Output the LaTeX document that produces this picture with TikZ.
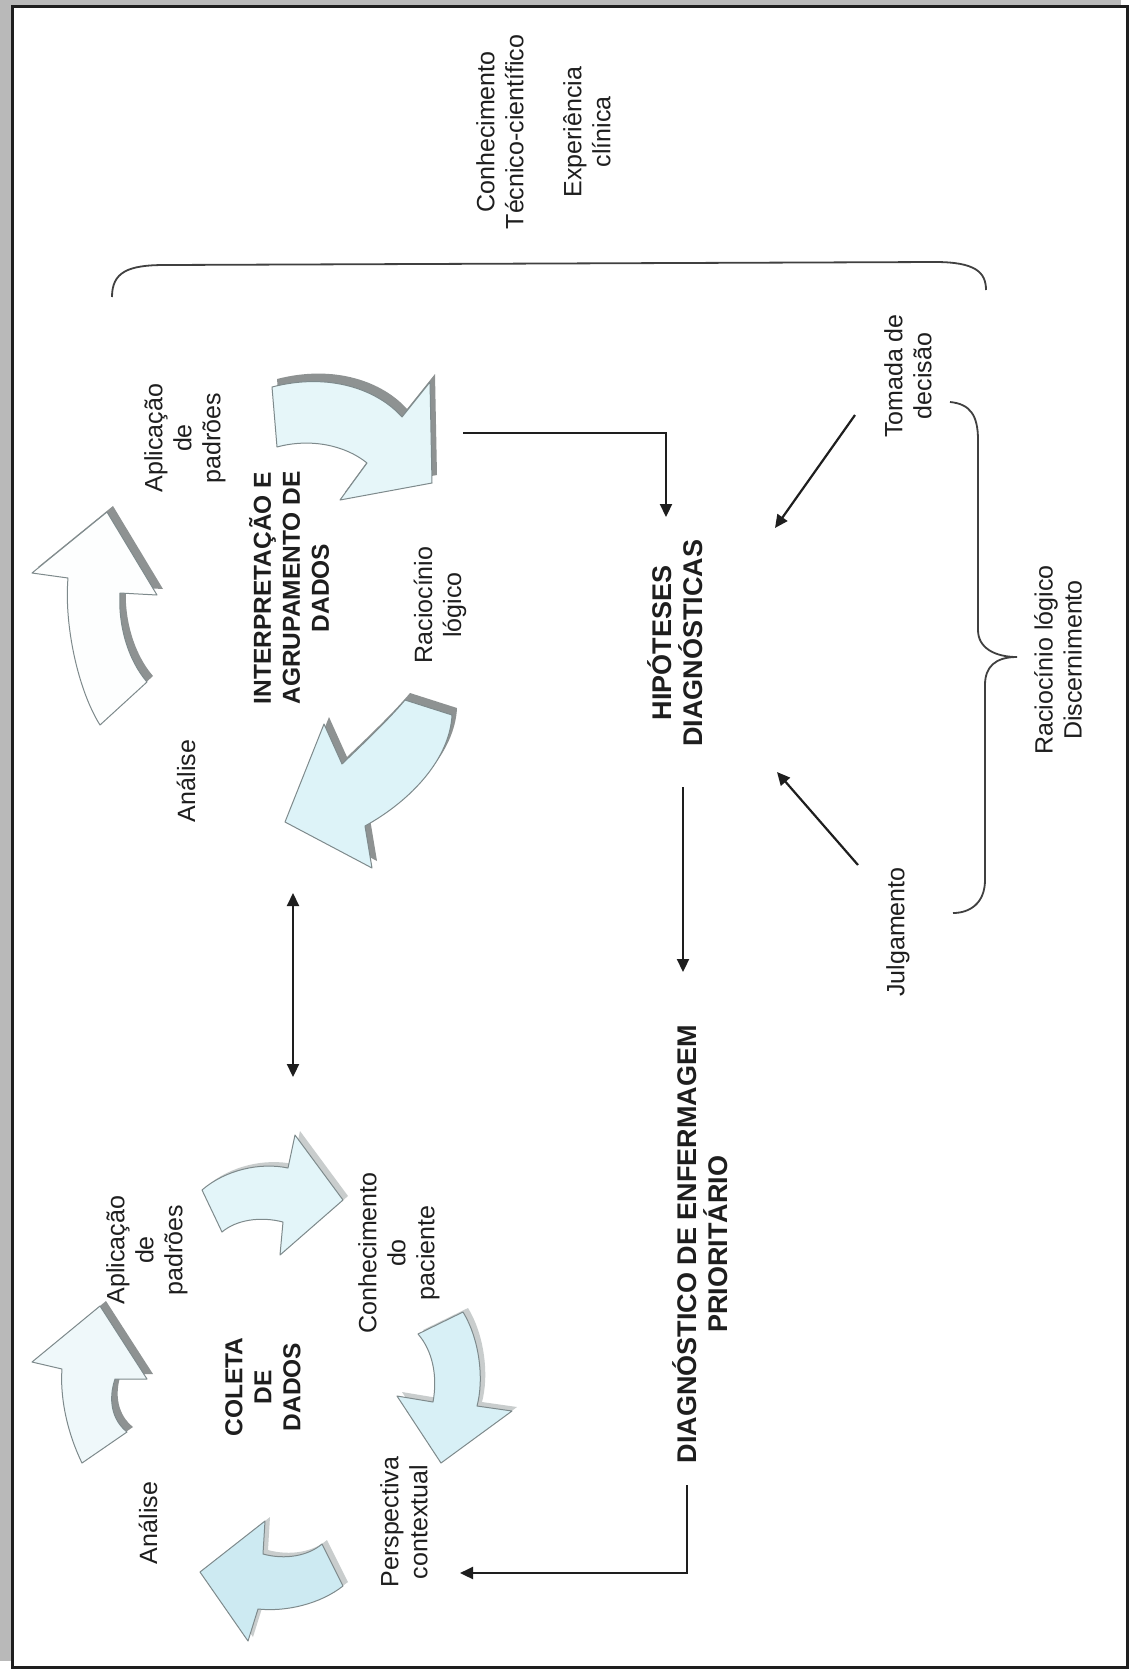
\documentclass[tikz,border=0pt]{standalone}
\usepackage{fontspec}
\setmainfont{Liberation Sans}
\usetikzlibrary{arrows.meta}
\definecolor{ink}{HTML}{1E1E1E}
\definecolor{edge}{HTML}{7E8A8C}
\definecolor{shade}{HTML}{8E9292}
\definecolor{softshade}{HTML}{C9CDCD}
\definecolor{fillA}{HTML}{FDFEFE}
\definecolor{fillB}{HTML}{E6F6F9}
\definecolor{fillC}{HTML}{DDF3F8}
\definecolor{fillD}{HTML}{EFF8FA}
\definecolor{fillE}{HTML}{E3F5F9}
\definecolor{fillF}{HTML}{D8F0F6}
\definecolor{fillG}{HTML}{CDEAF2}

% outlines of the curved cycle arrows (image coordinates, y pointing down)
\def\arrowAone{(107,512) -- (157,595) -- (120,593) .. controls (118,625) and (128,660) .. (147,682) -- (100,725) .. controls (78,690) and (64,625) .. (68,578) -- (32,573) -- cycle}
\def\arrowAtwo{(272,387) .. controls (330,372) and (378,390) .. (402,417) -- (430,382) -- (432,483) -- (340,500) -- (367,463) .. controls (345,445) and (310,438) .. (277,447) -- cycle}
\def\arrowAthree{(405,700) -- (452,715) .. controls (450,758) and (412,800) .. (365,826) -- (372,868) -- (285,822) -- (324,724) -- (342,764) .. controls (365,742) and (390,718) .. (405,700) -- cycle}
\def\arrowBone{(100,1306) -- (147,1379) -- (115,1379) .. controls (108,1400) and (112,1420) .. (127,1432) -- (82,1463) .. controls (66,1430) and (60,1395) .. (62,1369) -- (32,1362) -- cycle}
\def\arrowBtwo{(202,1190) .. controls (225,1170) and (260,1162) .. (288,1168) -- (295,1135) -- (343,1200) -- (280,1255) -- (283,1222) .. controls (260,1216) and (236,1220) .. (222,1232) -- cycle}
\def\arrowBthree{(418,1334) -- (463,1312) .. controls (480,1340) and (484,1380) .. (477,1406) -- (512,1411) -- (441,1463) -- (397,1396) -- (433,1402) .. controls (438,1375) and (432,1350) .. (418,1334) -- cycle}
\def\arrowBfour{(322,1544) -- (343,1586) .. controls (320,1604) and (286,1612) .. (258,1609) -- (248,1641) -- (200,1572) -- (265,1521) -- (263,1554) .. controls (285,1560) and (308,1556) .. (322,1544) -- cycle}

\begin{document}
\begin{tikzpicture}[x=1pt,y=-1pt,
  lbl/.style={rotate=90,align=center,inner sep=0pt,text=ink,font=\fontsize{25}{29}\selectfont},
  headlbl/.style={lbl,font=\fontsize{24.5}{29}\selectfont\bfseries},
  biglbl/.style={lbl,font=\fontsize{27}{31}\selectfont\bfseries},
  conn/.style={line width=2.2pt,draw=ink,-{Triangle[length=13pt,width=12pt]}},
  twoway/.style={line width=2.2pt,draw=ink,{Triangle[length=13pt,width=12pt]}-{Triangle[length=13pt,width=12pt]}},
  bracket/.style={line width=1.8pt,draw=ink!85},
  cyc/.style={draw=edge,line width=1pt,line join=round},
  hardshadow/.style={fill=shade},
  lightshadow/.style={fill=softshade}]

\useasboundingbox (0,0) rectangle (1133,1671);

% page frame with its shaded top-left edge
\fill[gray!55] (0,0) rectangle (1121,1661);
\draw[line width=3pt,draw=ink,fill=white] (12,6) rectangle (1127,1667);

% upper cycle arrows
\fill[hardshadow,shift={(6,-6)}] \arrowAone;
\path[cyc,fill=fillA] \arrowAone;
\fill[hardshadow,shift={(5,-8)}] \arrowAtwo;
\path[cyc,fill=fillB] \arrowAtwo;
\fill[hardshadow,shift={(5,-7)}] \arrowAthree;
\path[cyc,fill=fillC] \arrowAthree;

% lower cycle arrows
\fill[hardshadow,shift={(6,-5)}] \arrowBone;
\path[cyc,fill=fillD] \arrowBone;
\fill[lightshadow,shift={(5,-4)}] \arrowBtwo;
\path[cyc,fill=fillE] \arrowBtwo;
\fill[lightshadow,shift={(5,-4)}] \arrowBthree;
\path[cyc,fill=fillF] \arrowBthree;
\fill[lightshadow,shift={(5,-4)}] \arrowBfour;
\path[cyc,fill=fillG] \arrowBfour;

% labels
\node[lbl] (conh) at (500,132) {Conhecimento\\Técnico-científico};
\node[lbl] (exper) at (587,132) {Experiência\\clínica};
\node[lbl] (aplicA) at (185,438) {Aplicação\\de\\padrões};
\node[headlbl] (interp) at (289,588) {INTERPRETAÇÃO E\\AGRUPAMENTO DE\\DADOS};
\node[lbl] (racioA) at (440,605) {Raciocínio\\lógico};
\node[lbl] (analiseA) at (186,781) {Análise};
\node[biglbl] (hip) at (675,643) {HIPÓTESES\\DIAGNÓSTICAS};
\node[lbl] (tomada) at (908,376) {Tomada de\\decisão};
\node[lbl] (racioB) at (1058,660) {Raciocínio lógico\\Discernimento};
\node[lbl] (julg) at (898,932) {Julgamento};
\node[biglbl] (diag) at (700,1244) {DIAGNÓSTICO DE ENFERMAGEM\\PRIORITÁRIO};
\node[lbl] (aplicB) at (147,1250) {Aplicação\\de\\padrões};
\node[lbl] (conhB) at (399,1253) {Conhecimento\\do\\paciente};
\node[headlbl] (coleta) at (263,1387) {COLETA\\DE\\DADOS};
\node[lbl] (analiseB) at (148,1523) {Análise};
\node[lbl] (persp) at (404,1522) {Perspectiva\\contextual};

% connector end points
\coordinate (interpOut) at (463,433);
\coordinate (hipTop) at (666,517);
\coordinate (tomadaOut) at (855,415);
\coordinate (hipRightTop) at (775,528);
\coordinate (julgOut) at (858,865);
\coordinate (hipRightBot) at (777,772);
\coordinate (hipBot) at (683,787);
\coordinate (diagTop) at (683,972);
\coordinate (cycTop) at (293,893);
\coordinate (cycBot) at (293,1077);
\coordinate (diagOut) at (687,1485);
\coordinate (perspIn) at (460,1573);

% connectors
\draw[conn] (interpOut) -| (hipTop);
\draw[conn] (tomadaOut) -- (hipRightTop);
\draw[conn] (julgOut) -- (hipRightBot);
\draw[conn] (hipBot) -- (diagTop);
\draw[twoway] (cycTop) -- (cycBot);
\draw[conn] (diagOut) |- (perspIn);

% brackets
\draw[bracket] (112,297) .. controls (112,272) and (128,265) .. (165,265) -- (935,262) .. controls (975,262) and (986,272) .. (986,290);
\draw[bracket] (950,402) .. controls (970,404) and (978,415) .. (978,440) -- (978,630) .. controls (978,648) and (995,657) .. (1017,657) .. controls (995,657) and (985,667) .. (985,685) -- (985,880) .. controls (985,903) and (970,913) .. (953,913);

\end{tikzpicture}
\end{document}
